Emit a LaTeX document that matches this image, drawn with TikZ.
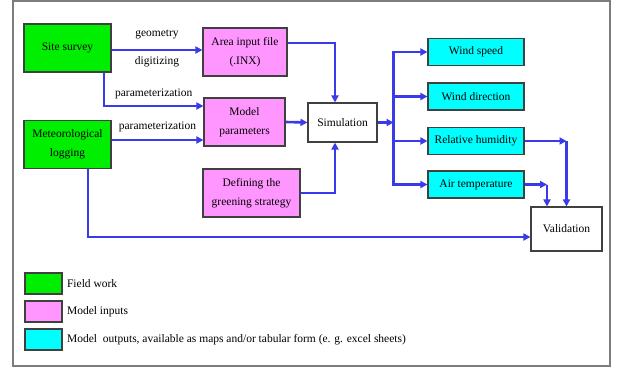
\documentclass[tikz,border=0pt]{standalone}
\usepackage{fontspec}
\setmainfont{Liberation Serif}
\usetikzlibrary{arrows.meta,positioning}

\definecolor{fieldgreen}{RGB}{0,238,0}
\definecolor{inputpink}{RGB}{255,150,255}
\definecolor{outputcyan}{RGB}{0,255,255}
\definecolor{linkblue}{RGB}{58,58,235}
\definecolor{framegray}{RGB}{125,125,125}

\begin{document}
\begin{tikzpicture}[
    x=1pt,
    y=-1pt,
    >={Triangle[length=7pt,width=7pt]},
    font=\fontsize{11.5}{19}\selectfont,
    box/.style={rectangle,draw=black!75,line width=1.1pt,inner sep=1pt,align=center},
    field node/.style={box,fill=fieldgreen,minimum width=87pt,minimum height=48pt},
    input node/.style={box,fill=inputpink,minimum height=48pt},
    output node/.style={box,fill=outputcyan,minimum width=96pt,minimum height=27pt},
    plain node/.style={box,fill=white},
    key node/.style={box,minimum width=37pt,minimum height=21pt},
    link/.style={draw=linkblue,line width=2.6pt}
]

% Frame
\useasboundingbox (0,0) rectangle (617,367);
\draw[framegray,line width=1.2pt] (13,1) rectangle (610,366);

% Field work
\node[field node] (site) at (67.5,48) {Site survey};
\node[field node] (meteo) at (67.5,144.5) {Meteorological\\logging};

% Model inputs
\node[input node, minimum width=84pt] (area) at (245,52) {Area input file\\(.INX)};
\node[input node, minimum width=81pt] (params) at (244.5,122) {Model\\parameters};
\node[input node, minimum width=97pt] (greening) at (251.5,193) {Defining the\\greening strategy};

% Simulation
\node[plain node, minimum width=69pt, minimum height=39pt] (sim) at (342.5,122.5) {Simulation};

% Model outputs
\node[output node] (speed) at (476,52) {Wind speed};
\node[output node] (direction) at (476,96.5) {Wind direction};
\node[output node] (humidity) at (476,141) {Relative humidity};
\node[output node] (temperature) at (476,184.5) {Air temperature};

% Validation
\node[plain node, minimum width=71pt, minimum height=44pt] (validation) at (566.5,229) {Validation};

% Legend
\node[key node, fill=fieldgreen] (key_field) at (43.5,283.5) {};
\node[key node, fill=inputpink] (key_input) at (43.5,311.5) {};
\node[key node, fill=outputcyan] (key_output) at (43.5,339.5) {};
\node[right=1pt of key_field] (lbl_field) {Field work};
\node[right=1pt of key_input] (lbl_input) {Model inputs};
\node[right=1pt of key_output] (lbl_output) {Model~ outputs, available as maps and/or tabular form (e. g. excel sheets)};

% Helper points
\coordinate (pm_in) at ([yshift=-18pt]params.west);
\coordinate (val_in) at ([yshift=-8pt]validation.west);
\coordinate (fork) at ([xshift=16pt]sim.east);
\coordinate (rh_turn) at (validation.north |- humidity.east);
\coordinate (at_x) at ([xshift=-19.5pt]validation.north);
\coordinate (at_turn) at (at_x |- temperature.east);

% Arrows
\draw[link,->] ([yshift=-2pt]site.east) -- ([yshift=-2pt]site.east -| area.west)
    node[midway,above=6pt] {geometry} node[midway,below=2pt] {digitizing};
\draw[link,->] ([xshift=36.5pt]site.south) |- ([yshift=16pt]params.west)
    node[pos=0.75,above=2pt] {parameterization};
\draw[link,->] (pm_in -| meteo.east) -- (pm_in)
    node[midway,above=3pt] {parameterization};
\draw[link,->] ([xshift=20.5pt]meteo.south) |- (val_in);

\draw[link,->] ([yshift=9pt]area.east) -| ([xshift=-7.5pt]sim.north);
\draw[link,->] (params.east) -- (sim.west);
\draw[link,->] (greening.east) -| ([xshift=-7.5pt]sim.south);

\draw[link,->] (sim.east) -- (fork);
\draw[link,line cap=rect] (fork |- speed.west) -- (fork |- temperature.west);
\foreach \out in {speed,direction,humidity,temperature}
    \draw[link,->] (fork |- \out.west) -- (\out.west);

\draw[link,->] (humidity.east) -- (rh_turn);
\draw[link,->] (rh_turn) -- (validation.north);
\draw[link,->] (temperature.east) -- (at_turn);
\draw[link,->] (at_turn) -- (at_x);

\end{tikzpicture}
\end{document}
